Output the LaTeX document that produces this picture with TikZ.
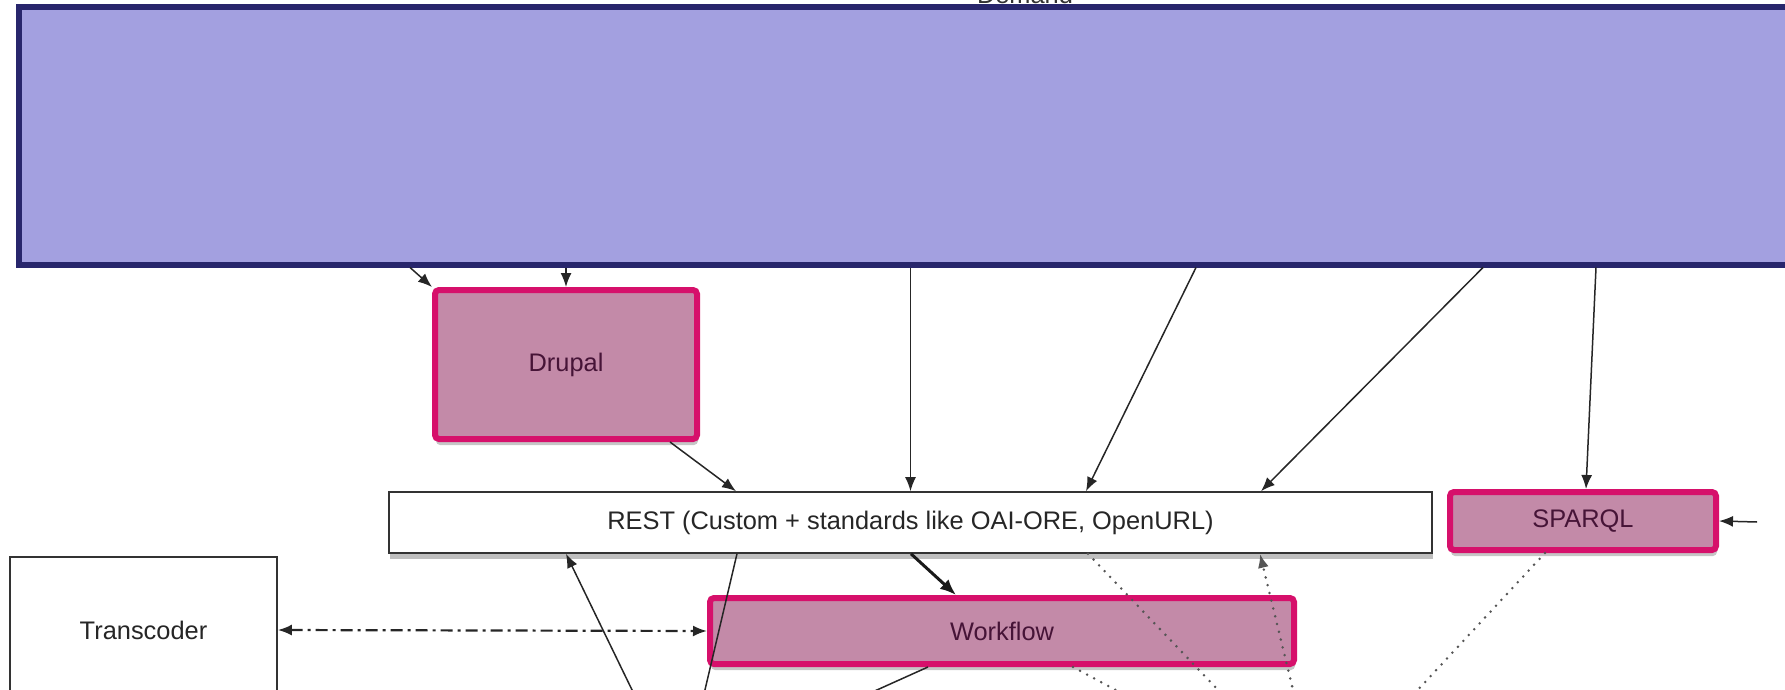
\documentclass[tikz,border=0pt]{standalone}
\usepackage{fontspec}
\setmainfont{Liberation Sans}
\usetikzlibrary{arrows.meta,shadows}

\definecolor{demandfill}{RGB}{163,160,224}
\definecolor{demanddraw}{RGB}{40,38,108}
\definecolor{compfill}{RGB}{195,138,168}
\definecolor{compdraw}{RGB}{214,16,107}
\definecolor{comptext}{RGB}{70,20,55}
\definecolor{dotcol}{RGB}{85,85,85}

\begin{document}
\begin{tikzpicture}[x=0.5pt, y=-0.5pt, font=\fontsize{12.7}{15}\selectfont]

      \useasboundingbox (0,0) rectangle (1785,690);
      \clip (0,0) rectangle (1785,690);
      \tikzset{component/.style={draw=compdraw, line width=3pt, fill=compfill, text=comptext, rounded corners=2pt, inner sep=0pt,
                 drop shadow={shadow xshift=0.5pt, shadow yshift=-3pt, opacity=0.45}},
               plainbox/.style={draw=black!80, line width=0.8pt, fill=white, text=black!85, inner sep=0pt,
                 drop shadow={shadow xshift=0.5pt, shadow yshift=-3pt, opacity=0.5}},
               arr/.style={draw=black!85, line width=0.75pt, -{Latex[length=7pt,width=5.5pt]}},
               thickarr/.style={draw=black!90, line width=1.5pt, -{Latex[length=8pt,width=6.5pt]}},
               plainline/.style={draw=black!85, line width=0.75pt},
               dashdotarr/.style={draw=black!85, line width=1.1pt, dash pattern=on 6pt off 2.5pt on 1.5pt off 2.5pt,
                 {Latex[length=7pt,width=5.5pt]}-{Latex[length=7pt,width=5.5pt]}},
               dots/.style={draw=dotcol, line width=1.4pt, line cap=round, dash pattern=on 0pt off 4pt}}
%% Boxes
      	\node[anchor=base, text=black!80] (demandlabel) at (1025,4) {Demand};
      	\node[draw=demanddraw, line width=3pt, fill=demandfill, minimum width=890.75pt, minimum height=128.5pt] (demand) at (909.25,136) {};
      	\node[component, minimum width=131pt, minimum height=74.5pt] (drupal) at (566,364.5) {Drupal};
      	\node[plainbox, minimum width=521.5pt, minimum height=30.5pt] (rest) at (910.5,522.5) {REST (Custom + standards like OAI-ORE, OpenURL)};
      	\node[component, minimum width=133pt, minimum height=29pt] (sparql) at (1583,521) {SPARQL};
      	\node[plainbox, minimum width=133.5pt, minimum height=73pt] (transcoder) at (143.5,630) {Transcoder};
      	\node[component, minimum width=292pt, minimum height=33pt] (workflow) at (1002,631) {Workflow};
%% Free ends
      	\coordinate (ext) at (1757,522);
      	\coordinate (b1) at (634,694);
      	\coordinate (b2) at (704,694);
      	\coordinate (b3) at (868,694);
      	\coordinate (b4) at (1222,694);
      	\coordinate (b5) at (1123,694);
      	\coordinate (b6) at (1294,694);
      	\coordinate (b7) at (1414,694);
%Edges
		\path (demand.south -| 410,0) edge[arr] (drupal.north west);
		\path (demand.south -| drupal.north) edge[arr] (drupal.north);
		\path (drupal.south -| 670,0) edge[arr] (rest.north -| 736,0);
		\path (demand.south -| rest.north) edge[arr] (rest.north);
		\path (demand.south -| 1196,0) edge[arr] (rest.north -| 1086,0);
		\path (demand.south -| 1483,0) edge[arr] (rest.north -| 1261,0);
		\path (demand.south -| 1596,0) edge[arr] (sparql.north -| 1586,0);
		\path (ext) edge[arr] (sparql.east);
		\path (rest.south -| 911,0) edge[thickarr] (workflow.north -| 956,0);
		\path (transcoder.east) edge[dashdotarr] (workflow.west);
		\path (b1) edge[arr] (rest.south -| 566,0);
		\path (rest.south -| 737,0) edge[plainline] (b2);
		\path (workflow.south -| 928,0) edge[plainline] (b3);
		\path (rest.south -| 1088,0) edge[dots] (b4);
		\path (workflow.south -| 1073,0) edge[dots] (b5);
		\path (b6) edge[dots, -{Latex[length=7pt,width=5.5pt]}] (rest.south -| 1260,0);
		\path (sparql.south -| 1545,0) edge[dots] (b7);

	\end{tikzpicture}
\end{document}
